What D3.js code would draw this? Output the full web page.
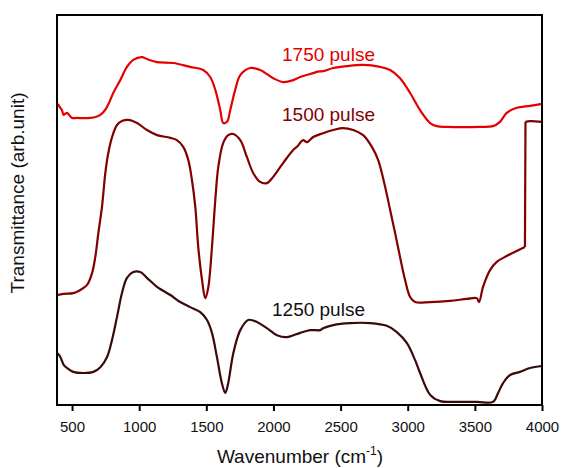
<!DOCTYPE html>
<html>
<head>
<meta charset="utf-8">
<script src="https://cdn.jsdelivr.net/npm/d3@7"></script>
<style>
  html, body { margin: 0; padding: 0; background: #fff; }
  svg { display: block; font-family: Arial, "Liberation Sans", sans-serif; }
</style>
</head>
<body>
<svg id="chart" width="562" height="468"></svg>
<script>
// ---- data (wavenumber cm-1, transmittance in arbitrary units) ----
const xTicks = [500, 1000, 1500, 2000, 2500, 3000, 3500, 4000];
const seriesNames = ["1750 pulse", "1500 pulse", "1250 pulse"];

const wn1750 = [393, 413, 425, 437, 450, 463, 500, 537, 636, 711, 760, 807, 859, 909, 956, 1021, 1058, 1133, 1254, 1380, 1477, 1529, 1567, 1604, 1626, 1654, 1678, 1715, 1753, 1827, 1901, 1998, 2073, 2147, 2199, 2296, 2330, 2370, 2445, 2547, 2668, 2794, 2869, 2943, 3018, 3092, 3167, 3216, 3291, 3539, 3635, 3687, 3737, 3812, 3911, 4000];
const t1750  = [77.2, 76.2, 75.6, 74.4, 74.7, 74.9, 73.6, 73.6, 73.6, 74.4, 76.4, 80.0, 83.3, 86.7, 88.5, 89.2, 88.7, 87.9, 87.7, 86.7, 85.9, 84.1, 80.8, 75.6, 72.3, 72.6, 75.6, 80.8, 84.6, 86.4, 85.9, 83.8, 82.8, 83.3, 84.1, 85.1, 85.5, 85.6, 86.4, 86.9, 87.2, 86.7, 85.9, 83.8, 80.0, 75.6, 72.3, 71.5, 71.3, 71.3, 71.5, 72.6, 74.9, 76.2, 76.7, 77.2];

const wn1500 = [393, 435, 510, 562, 612, 649, 673, 696, 723, 748, 770, 798, 835, 872, 919, 984, 1058, 1133, 1232, 1281, 1328, 1366, 1393, 1418, 1440, 1468, 1492, 1514, 1542, 1567, 1589, 1626, 1663, 1701, 1753, 1802, 1849, 1901, 1951, 1998, 2073, 2147, 2175, 2221, 2249, 2296, 2370, 2445, 2519, 2594, 2668, 2733, 2780, 2832, 2869, 2906, 2943, 2980, 3018, 3055, 3167, 3315, 3440, 3514, 3531, 3561, 3613, 3663, 3737, 3812, 3873, 3877, 3911, 4000];
const t1500  = [28.2, 28.5, 28.7, 29.5, 30.8, 33.8, 37.9, 44.1, 50.8, 59.5, 64.6, 68.7, 71.8, 72.8, 73.1, 72.3, 70.5, 69.2, 68.5, 67.9, 66.2, 62.8, 57.7, 50.8, 40.5, 32.1, 27.4, 30.0, 40.5, 52.6, 61.0, 67.2, 69.2, 69.5, 67.9, 63.6, 59.5, 57.2, 56.9, 58.5, 62.1, 65.4, 66.2, 67.9, 67.4, 68.7, 69.7, 70.5, 71.0, 70.5, 69.2, 66.2, 62.8, 55.9, 50.0, 44.1, 37.9, 32.1, 27.7, 26.4, 26.4, 26.7, 27.2, 27.4, 26.4, 30.3, 34.6, 36.7, 38.2, 39.5, 40.5, 72.6, 72.8, 72.6];

const wn1250 = [393, 413, 438, 463, 510, 584, 659, 711, 761, 798, 835, 872, 909, 956, 1008, 1058, 1133, 1232, 1306, 1380, 1455, 1505, 1542, 1579, 1616, 1641, 1663, 1701, 1753, 1812, 1877, 1951, 2026, 2100, 2199, 2274, 2348, 2370, 2445, 2571, 2720, 2844, 2919, 2993, 3055, 3092, 3167, 3241, 3338, 3514, 3635, 3673, 3710, 3762, 3836, 3911, 4000];
const t1250  = [13.3, 12.3, 10.3, 9.5, 8.5, 8.2, 8.5, 9.7, 12.3, 16.7, 22.6, 28.7, 32.6, 34.1, 34.1, 32.6, 30.3, 28.2, 26.4, 25.1, 23.8, 21.8, 18.5, 12.3, 5.6, 3.1, 5.6, 13.3, 19.2, 21.8, 21.3, 19.7, 17.9, 17.4, 18.5, 19.2, 19.2, 19.7, 20.5, 21.0, 21.0, 20.3, 18.7, 15.9, 11.5, 8.2, 2.6, 1.0, 0.8, 0.8, 0.8, 3.1, 5.6, 7.7, 8.5, 9.5, 10.0];

const colors = ["#e50000", "#820000", "#3a0a0a"];
const labelColors = ["#e50000", "#820000", "#111111"];

// ---- layout ----
const svg = d3.select("#chart");
const m = { left: 57, right: 542, top: 15, bottom: 405 };

const x = d3.scaleLinear().domain([388, 4000]).range([m.left, m.right]);
const y = d3.scaleLinear().domain([0, 100]).range([m.bottom, m.top]);

const series = [
  { name: seriesNames[0], wn: wn1750, t: t1750 },
  { name: seriesNames[1], wn: wn1500, t: t1500 },
  { name: seriesNames[2], wn: wn1250, t: t1250 }
];

const smooth = d3.line()
  .x(d => x(d[0]))
  .y(d => y(d[1]))
  .curve(d3.curveCatmullRom.alpha(0.5));
const straight = d3.line().x(d => x(d[0])).y(d => y(d[1]));

series.forEach((s, i) => {
  const pts = s.wn.map((w, k) => [w, s.t[k]]);
  // split where the spectrum jumps abruptly (instrument step)
  const pieces = [[pts[0]]];
  const jumps = [];
  for (let k = 1; k < pts.length; k++) {
    const dw = pts[k][0] - pts[k - 1][0];
    const dt = Math.abs(pts[k][1] - pts[k - 1][1]);
    if (dw < 10 && dt > 10) {
      jumps.push([pts[k - 1], pts[k]]);
      pieces.push([pts[k]]);
    } else {
      pieces[pieces.length - 1].push(pts[k]);
    }
  }
  const g = svg.append("g")
    .attr("fill", "none")
    .attr("stroke", colors[i])
    .attr("stroke-width", 2.2)
    .attr("stroke-linejoin", "round");
  pieces.forEach(p => g.append("path").attr("d", smooth(p)));
  jumps.forEach(j => g.append("path").attr("d", straight(j)));
});

// axis
const xAxis = d3.axisBottom(x).tickValues(xTicks).tickSize(6).tickPadding(10).tickFormat(d3.format("d"));
const gx = svg.append("g").attr("transform", `translate(0,${m.bottom})`).call(xAxis);
gx.select(".domain").remove();
gx.selectAll(".tick line").attr("stroke", "#000").attr("stroke-width", 2);
gx.selectAll(".tick text").attr("font-size", 15).attr("fill", "#111")
  .attr("font-family", 'Arial, "Liberation Sans", sans-serif');

// frame
svg.append("rect")
  .attr("x", m.left).attr("y", m.top)
  .attr("width", m.right - m.left).attr("height", m.bottom - m.top)
  .attr("fill", "none").attr("stroke", "#000").attr("stroke-width", 2);

// series labels
const labelPos = [[282, 61], [282, 121], [272, 316]];
series.forEach((s, i) => {
  svg.append("text")
    .attr("x", labelPos[i][0]).attr("y", labelPos[i][1])
    .attr("font-size", 19).attr("fill", labelColors[i])
    .text(s.name);
});

// axis titles
const xt = svg.append("text")
  .attr("x", 300).attr("y", 463)
  .attr("text-anchor", "middle")
  .attr("font-size", 19).attr("fill", "#111");
xt.append("tspan").text("Wavenumber (cm");
xt.append("tspan").attr("font-size", 12).attr("dy", -8).text("-1");
xt.append("tspan").attr("dy", 8).text(")");

svg.append("text")
  .attr("transform", "translate(24,193) rotate(-90)")
  .attr("text-anchor", "middle")
  .attr("font-size", 19).attr("fill", "#111")
  .text("Transmittance (arb.unit)");
</script>
</body>
</html>
